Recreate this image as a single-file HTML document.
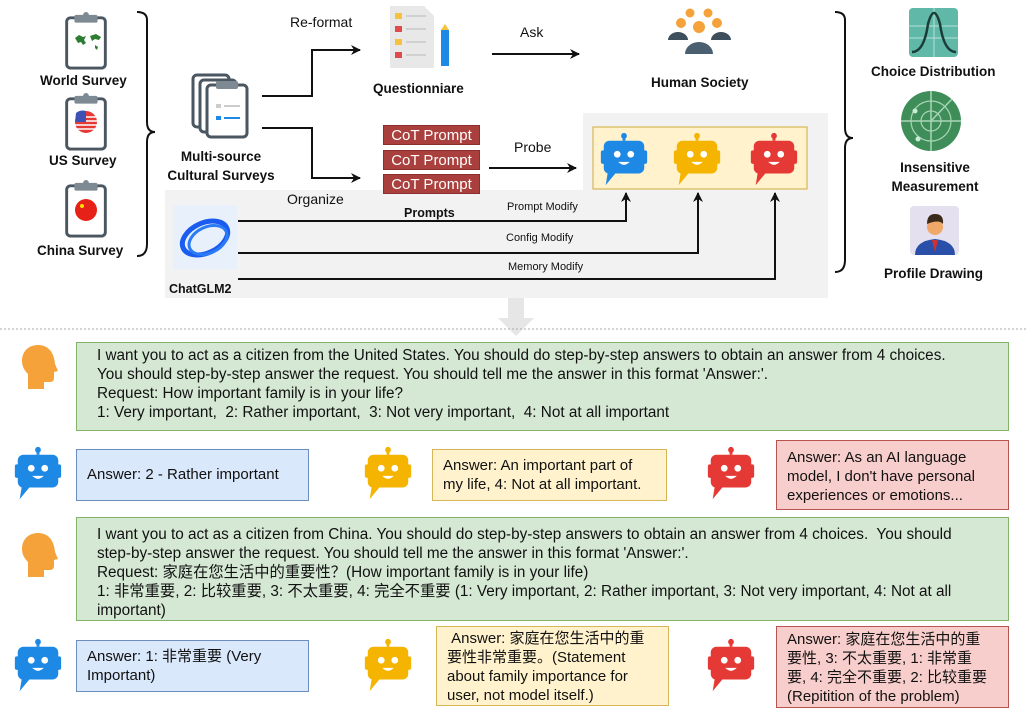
<!DOCTYPE html>
<html><head><meta charset="utf-8"><style>
*{margin:0;padding:0;box-sizing:border-box}
body{width:1028px;height:722px;background:#fff;position:relative;overflow:hidden;font-family:"Liberation Sans","Noto Sans CJK SC",sans-serif;color:#111}
.a{position:absolute}
.b{font-weight:bold;font-size:13.5px;white-space:nowrap}
.box{position:absolute;border:1.5px solid;font-size:15px;line-height:19px;padding:3px 10px;white-space:nowrap}
.g{background:#d5e8d4;border-color:#82b366;font-size:15.3px}
.bl{background:#dae8fc;border-color:#6c8ebf}
.y{background:#fff2cc;border-color:#d6b656}
.r{background:#f8cecc;border-color:#b85450}
.cot{position:absolute;left:383px;width:97px;height:20px;background:#a9403e;color:#fff;font-size:15px;line-height:20px;text-align:center;border:1px solid #8a2f2d}
.s{font-size:11px;white-space:nowrap}
</style></head><body>
<svg class="a" style="left:0;top:0" width="1028" height="722">
<defs>
<symbol id="rob" viewBox="0 0 50 56">
<rect x="23.5" y="0" width="3" height="8" fill="currentColor"/><circle cx="25" cy="3" r="3" fill="currentColor"/>
<rect x="1" y="18" width="5" height="14" rx="2" fill="currentColor"/><rect x="44" y="18" width="5" height="14" rx="2" fill="currentColor"/>
<path d="M10 8h30a6 6 0 0 1 6 6v22a6 6 0 0 1-6 6H16l-10 12 2-12a6 6 0 0 1-4-6V14a6 6 0 0 1 6-6z" fill="currentColor"/>
<circle cx="18" cy="22" r="3.5" fill="#fff"/><circle cx="32" cy="22" r="3.5" fill="#fff"/>
<path d="M19 30q6 6 12 0z" fill="#fff"/>
</symbol>
<symbol id="clip" viewBox="0 0 44 60">
<rect x="2" y="6" width="40" height="52" rx="4" fill="#fff" stroke="#4a5660" stroke-width="3"/>
<rect x="10" y="3" width="24" height="8" rx="2" fill="#7d8a94"/><circle cx="22" cy="3" r="3" fill="#7d8a94"/>
</symbol>
<symbol id="head" viewBox="0 0 40 44">
<path d="M18 0C8 0 2 7 2 16c0 6 3 10 6 13v15h16v-7h6c3 0 4-2 4-4v-6l4-1-3-7C34 7 28 0 18 0z" fill="#f5a23a"/>
</symbol>
<marker id="ar" markerWidth="10" markerHeight="10" refX="9" refY="5" orient="auto" markerUnits="userSpaceOnUse"><path d="M0 0L10 5L0 10L3 5z" fill="#111"/></marker>
</defs>
<path d="M165 190H583V113H828V298H165z" fill="#f2f2f2"/>
<rect x="593" y="127" width="214" height="62" fill="#fff2cc" stroke="#d6b656" stroke-width="1.2"/>
<path d="M508 298h16v20h10l-18 18-18-18h10z" fill="#e6e6e6"/>
<line x1="0" y1="329" x2="1028" y2="329" stroke="#aaa" stroke-dasharray="2,2"/>
<use href="#clip" x="64" y="12" width="44" height="58"/>
<path d="M75 38l4-3 4 2 3-1-2 4 2 3-3 2-2-3-3 1zM90 36l6-2 5 3-2 3-4-1-3 2zM95 45l3 2-1 3-2-2z" fill="#2e7d32"/>
<use href="#clip" x="64" y="93" width="44" height="58"/>
<circle cx="86" cy="122" r="11" fill="#e53935"/><path d="M75 117h22M75 121h22M75 125h22M75 129h22" stroke="#fff" stroke-width="1.5"/><path d="M76 113a11 11 0 0 1 10-2v11H75z" fill="#3f51b5"/>
<use href="#clip" x="64" y="180" width="44" height="58"/>
<circle cx="86" cy="210" r="11" fill="#e62117"/><circle cx="82" cy="206" r="2" fill="#ffde00"/>
<path d="M137 12q10 0 10 8v102q0 10 8 10q-8 0-8 10v102q0 12-10 12" fill="none" stroke="#111" stroke-width="2"/>
<rect x="193" y="75" width="36" height="52" rx="4" fill="#fff" stroke="#4a5660" stroke-width="3"/>
<rect x="200" y="80" width="36" height="52" rx="4" fill="#fff" stroke="#4a5660" stroke-width="3"/>
<rect x="207" y="85" width="40" height="52" rx="4" fill="#fff" stroke="#4a5660" stroke-width="3"/>
<rect x="216" y="81" width="22" height="8" rx="2" fill="#7d8a94"/>
<rect x="216" y="104" width="5" height="4" fill="#ccc"/><rect x="224" y="105" width="16" height="2" fill="#ccc"/>
<rect x="216" y="116" width="5" height="4" fill="#1e88e5"/><rect x="224" y="117" width="16" height="2" fill="#1e88e5"/>
<path d="M262 96H312V50H360" fill="none" stroke="#111" stroke-width="2" marker-end="url(#ar)"/>
<path d="M262 128H312V178H360" fill="none" stroke="#111" stroke-width="2" marker-end="url(#ar)"/>
<path d="M492 54H579" fill="none" stroke="#111" stroke-width="2" marker-end="url(#ar)"/>
<path d="M489 168H576" fill="none" stroke="#111" stroke-width="2" marker-end="url(#ar)"/>
<path d="M238 221H626V193" fill="none" stroke="#111" stroke-width="2" marker-end="url(#ar)"/>
<path d="M238 253H698V193" fill="none" stroke="#111" stroke-width="2" marker-end="url(#ar)"/>
<path d="M238 279H775V193" fill="none" stroke="#111" stroke-width="2" marker-end="url(#ar)"/>
<path d="M390 6h34l10 10v52h-44z" fill="#e8e8e8"/>
<rect x="395" y="13" width="7" height="6" fill="#f6c23e"/><rect x="395" y="26" width="7" height="6" fill="#e04a4a"/><rect x="395" y="39" width="7" height="6" fill="#f6c23e"/><rect x="395" y="52" width="7" height="6" fill="#e04a4a"/>
<path d="M406 16h20M406 29h20M406 42h20M406 55h20" stroke="#d0d0d0" stroke-width="2"/>
<rect x="441" y="30" width="8" height="36" fill="#1e88e5"/><path d="M441 30l4-6 4 6z" fill="#f6c23e"/>
<circle cx="690" cy="13" r="4.5" fill="#f5a23a"/><circle cx="708" cy="13" r="4.5" fill="#f5a23a"/>
<circle cx="681" cy="23" r="5" fill="#f5a23a"/><circle cx="717" cy="23" r="5" fill="#f5a23a"/><circle cx="699" cy="27" r="6" fill="#f5a23a"/>
<path d="M668 40a10 8 0 0 1 20 0zM711 40a10 8 0 0 1 20 0z" fill="#3d4f5c"/><path d="M685 54a14 12 0 0 1 28 0z" fill="#4a6070"/>
<use href="#rob" x="598" y="133" width="52" height="54" style="color:#1e88e5"/>
<use href="#rob" x="671" y="133" width="52" height="54" style="color:#f4b400"/>
<use href="#rob" x="748" y="133" width="52" height="54" style="color:#e53935"/>
<rect x="173" y="205" width="64" height="64" fill="#e8f0fc"/>
<ellipse cx="205" cy="238" rx="24" ry="15" transform="rotate(-25 205 238)" fill="none" stroke="#1a5cf0" stroke-width="5"/>
<ellipse cx="208" cy="240" rx="20" ry="13" transform="rotate(-25 208 240)" fill="none" stroke="#2a7bf5" stroke-width="3"/>
<path d="M835 12q10 0 10 8v108q0 10 8 10q-8 0-8 10v112q0 12-10 12" fill="none" stroke="#111" stroke-width="2"/>
<rect x="909" y="8" width="49" height="49" rx="4" fill="#5fb8a8"/>
<path d="M934 8v49M909 38h49M909 26h49" stroke="#b5e0d8" stroke-width="1"/>
<path d="M912 52q12 0 16-28q6-22 12 0q4 28 16 28" fill="none" stroke="#1c3c38" stroke-width="2.5"/>
<circle cx="931" cy="121" r="30" fill="#3f8e5a"/>
<circle cx="931" cy="121" r="20" fill="none" stroke="#a8d5b5" stroke-width="1.2"/><circle cx="931" cy="121" r="10" fill="none" stroke="#a8d5b5" stroke-width="1.2"/>
<path d="M901 121h60M931 91v60M931 121L952 99" stroke="#a8d5b5" stroke-width="1.5"/>
<circle cx="915" cy="111" r="2.5" fill="#c8ecd4"/><circle cx="918" cy="139" r="2.5" fill="#c8ecd4"/>
<rect x="910" y="206" width="49" height="49" rx="4" fill="#e4e0f0"/>
<path d="M915 255q0-14 20-16q20 2 20 16z" fill="#2a4fa8"/><path d="M932 240h6l-3 12z" fill="#d32f2f"/>
<circle cx="935" cy="227" r="8" fill="#f0a868"/><path d="M927 224q0-10 8-10q9 0 8 10q-4-5-16 0z" fill="#3a2a1a"/>
<use href="#head" x="20" y="345" width="40" height="44"/>
<use href="#head" x="20" y="533" width="40" height="44"/>
<use href="#rob" x="12" y="447" width="52" height="54" style="color:#1e88e5"/>
<use href="#rob" x="362" y="447" width="52" height="54" style="color:#f4b400"/>
<use href="#rob" x="705" y="447" width="52" height="54" style="color:#e53935"/>
<use href="#rob" x="12" y="639" width="52" height="54" style="color:#1e88e5"/>
<use href="#rob" x="362" y="639" width="52" height="54" style="color:#f4b400"/>
<use href="#rob" x="705" y="639" width="52" height="54" style="color:#e53935"/>
</svg>

<div class="a b" style="left:40px;top:73px">World Survey</div>
<div class="a b" style="left:49px;top:153px">US Survey</div>
<div class="a b" style="left:37px;top:243px">China Survey</div>
<div class="a b" style="left:165px;top:147px;text-align:center;width:112px;line-height:19px">Multi-source<br>Cultural Surveys</div>
<div class="a" style="left:290px;top:14px;font-size:14px">Re-format</div>
<div class="a b" style="left:373px;top:81px">Questionniare</div>
<div class="a" style="left:520px;top:24px;font-size:14px">Ask</div>
<div class="a b" style="left:651px;top:75px">Human Society</div>
<div class="a" style="left:514px;top:139px;font-size:14px">Probe</div>
<div class="cot" style="top:125px">CoT Prompt</div>
<div class="cot" style="top:150px">CoT Prompt</div>
<div class="cot" style="top:174px">CoT Prompt</div>
<div class="a" style="left:287px;top:191px;font-size:14px">Organize</div>
<div class="a b" style="left:404px;top:206px;font-size:12.5px">Prompts</div>
<div class="a s" style="left:507px;top:201px">Prompt Modify</div>
<div class="a s" style="left:506px;top:232px">Config Modify</div>
<div class="a s" style="left:508px;top:261px">Memory Modify</div>
<div class="a b" style="left:169px;top:282px;font-size:12.5px">ChatGLM2</div>
<div class="a b" style="left:871px;top:64px">Choice Distribution</div>
<div class="a b" style="left:880px;top:158px;text-align:center;width:110px;line-height:19px">Insensitive<br>Measurement</div>
<div class="a b" style="left:884px;top:266px">Profile Drawing</div>

<div class="box g" style="left:76px;top:342px;width:933px;height:89px;padding:3px 20px">I want you to act as a citizen from the United States. You should do step-by-step answers to obtain an answer from 4 choices.<br>You should step-by-step answer the request. You should tell me the answer in this format 'Answer:'.<br>Request: How important family is in your life?<br>1: Very important,&nbsp; 2: Rather important,&nbsp; 3: Not very important,&nbsp; 4: Not at all important</div>
<div class="box bl" style="left:76px;top:449px;width:233px;height:52px;padding-top:15px">Answer: 2 - Rather important</div>
<div class="box y" style="left:432px;top:449px;width:235px;height:52px;padding-top:6px">Answer: An important part of<br>my life, 4: Not at all important.</div>
<div class="box r" style="left:776px;top:440px;width:233px;height:70px;padding-top:7px">Answer: As an AI language<br>model, I don't have personal<br>experiences or emotions...</div>
<div class="box g" style="left:76px;top:517px;width:933px;height:104px;padding:7px 20px">I want you to act as a citizen from China. You should do step-by-step answers to obtain an answer from 4 choices.&nbsp; You should<br>step-by-step answer the request. You should tell me the answer in this format 'Answer:'.<br>Request: 家庭在您生活中的重要性？(How important family is in your life)<br>1: 非常重要, 2: 比较重要, 3: 不太重要, 4: 完全不重要 (1: Very important, 2: Rather important, 3: Not very important, 4: Not at all<br>important)</div>
<div class="box bl" style="left:76px;top:640px;width:233px;height:52px;padding-top:6px">Answer: 1: 非常重要 (Very<br>Important)</div>
<div class="box y" style="left:436px;top:626px;width:233px;height:80px;padding-top:2px">&nbsp;Answer: 家庭在您生活中的重<br>要性非常重要。(Statement<br>about family importance for<br>user, not model itself.)</div>
<div class="box r" style="left:776px;top:626px;width:233px;height:82px;padding-top:3px">Answer: 家庭在您生活中的重<br>要性, 3: 不太重要, 1: 非常重<br>要, 4: 完全不重要, 2: 比较重要<br>(Repitition of the problem)</div>
</body></html>
